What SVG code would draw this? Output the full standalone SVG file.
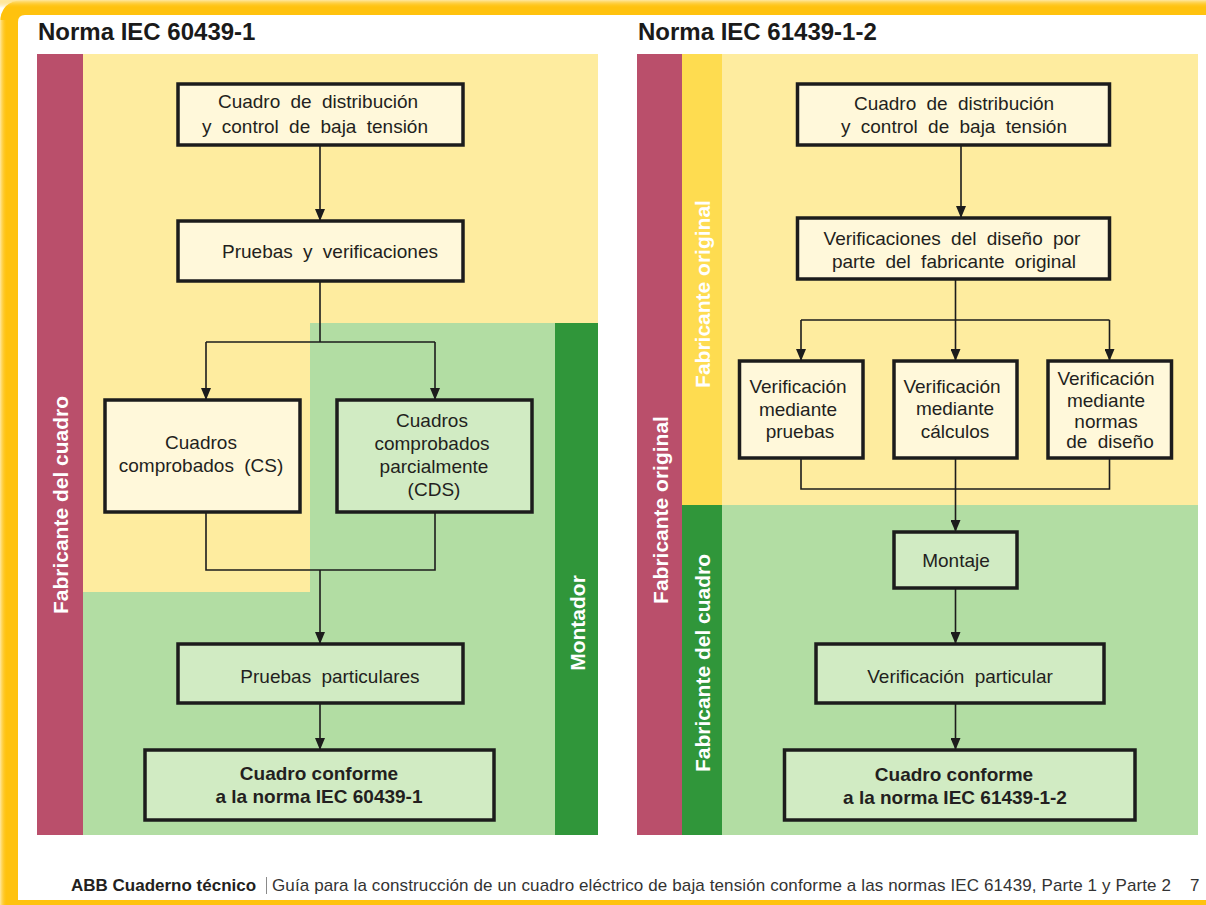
<svg xmlns="http://www.w3.org/2000/svg" width="1206" height="905" viewBox="0 0 1206 905">
<style>
.t{font-family:"Liberation Sans",Arial,sans-serif;font-size:19px;fill:#231F20;text-anchor:middle;word-spacing:5px}
.b{font-family:"Liberation Sans",Arial,sans-serif;font-size:19px;font-weight:bold;fill:#231F20;text-anchor:middle}
.v{font-family:"Liberation Sans",Arial,sans-serif;font-size:21px;font-weight:bold;fill:#FFFFFF;text-anchor:middle}
.h{font-family:"Liberation Sans",Arial,sans-serif;font-size:24px;font-weight:bold;fill:#1A1A1A}
.box{stroke:#1C1C1C;stroke-width:3.5}
.cr{fill:#FFF8DA}
.gr{fill:#D1EBC3}
.ln{fill:none;stroke:#1C1C1C;stroke-width:1.6}
</style>
<defs>
<marker id="ar" markerUnits="userSpaceOnUse" markerWidth="12" markerHeight="10" refX="12" refY="5" orient="auto">
<path d="M0,0 L12,5 L0,10 Z" fill="#1C1C1C"/>
</marker>
<linearGradient id="topg" x1="0" y1="0" x2="0" y2="1">
<stop offset="0" stop-color="#FFE8A0"/>
<stop offset="1" stop-color="#FFC20E" stop-opacity="0"/>
</linearGradient>
<linearGradient id="leftg" x1="0" y1="0" x2="1" y2="0">
<stop offset="0" stop-color="#FFE8A0"/>
<stop offset="1" stop-color="#FFC20E" stop-opacity="0"/>
</linearGradient>
</defs>
<rect width="1206" height="905" fill="#FFFFFF"/>
<g id="frame">
<path d="M0,905 V24 Q0,0 24,0 H1206 V905 Z" fill="#FFC20E"/>
<rect x="0" y="0" width="1206" height="8" fill="url(#topg)"/>
<rect x="0" y="20" width="7" height="885" fill="url(#leftg)"/>
<path d="M18,900 V22 Q18,15 25,15 H1206 V900 Z" fill="#FFFFFF"/>
</g>
<g id="left-panel">
<text class="h" x="38" y="40">Norma IEC 60439-1</text>
<rect x="83" y="54" width="515" height="781" fill="#FEEC9F"/>
<path d="M310,323 H555 V835 H83 V592 H310 Z" fill="#B2DDA3"/>
<rect x="37" y="54" width="46" height="781" fill="#BA4F6B"/>
<rect x="555" y="323" width="43" height="512" fill="#30963A"/>
<text class="v" transform="translate(60,505) rotate(-90)" x="0" y="7.5">Fabricante del cuadro</text>
<text class="v" transform="translate(577,623) rotate(-90)" x="0" y="7.5">Montador</text>
</g>
<g id="right-panel">
<text class="h" x="638" y="40">Norma IEC 61439-1-2</text>
<rect x="722" y="54" width="476" height="451" fill="#FEEC9F"/>
<rect x="722" y="505" width="476" height="330" fill="#B2DDA3"/>
<rect x="637" y="54" width="45" height="781" fill="#BA4F6B"/>
<rect x="682" y="54" width="40" height="451" fill="#FEDC50"/>
<rect x="682" y="505" width="40" height="330" fill="#30963A"/>
<text class="v" transform="translate(660,510) rotate(-90)" x="0" y="7.5">Fabricante original</text>
<text class="v" transform="translate(702,294) rotate(-90)" x="0" y="7.5">Fabricante original</text>
<text class="v" transform="translate(702,663) rotate(-90)" x="0" y="7.5">Fabricante del cuadro</text>
</g>
<g id="connectors">
<line class="ln" x1="320" y1="145" x2="320" y2="221" marker-end="url(#ar)"/>
<path class="ln" d="M320,281 V342 M206,342 H435"/>
<line class="ln" x1="206" y1="342" x2="206" y2="400" marker-end="url(#ar)"/>
<line class="ln" x1="435" y1="342" x2="435" y2="400" marker-end="url(#ar)"/>
<path class="ln" d="M206,512 V570 H435 V512"/>
<line class="ln" x1="320" y1="570" x2="320" y2="644" marker-end="url(#ar)"/>
<line class="ln" x1="320" y1="703" x2="320" y2="750" marker-end="url(#ar)"/>
<line class="ln" x1="961" y1="145" x2="961" y2="218" marker-end="url(#ar)"/>
<path class="ln" d="M955.5,279 V320 M801,320 H1109.5"/>
<line class="ln" x1="801" y1="320" x2="801" y2="361" marker-end="url(#ar)"/>
<line class="ln" x1="955.5" y1="320" x2="955.5" y2="361" marker-end="url(#ar)"/>
<line class="ln" x1="1109.5" y1="320" x2="1109.5" y2="361" marker-end="url(#ar)"/>
<path class="ln" d="M801,458 V489 H1109.5 V458"/>
<line class="ln" x1="955.5" y1="458" x2="955.5" y2="532" marker-end="url(#ar)"/>
<line class="ln" x1="955.5" y1="588" x2="955.5" y2="644" marker-end="url(#ar)"/>
<line class="ln" x1="955.5" y1="703" x2="955.5" y2="750" marker-end="url(#ar)"/>
</g>
<g id="l-box1">
<rect class="box cr" x="178" y="84" width="285" height="61"/>
<text class="t" x="318" y="108">Cuadro de distribución</text>
<text class="t" x="315" y="133">y control de baja tensión</text>
</g>
<g id="l-box2">
<rect class="box cr" x="178" y="221" width="285" height="60"/>
<text class="t" x="330" y="258">Pruebas y verificaciones</text>
</g>
<g id="l-cs">
<rect class="box cr" x="105" y="400" width="195" height="112"/>
<text class="t" x="201" y="449">Cuadros</text>
<text class="t" x="201" y="472">comprobados (CS)</text>
</g>
<g id="l-cds">
<rect class="box gr" x="337" y="400" width="195" height="112"/>
<text class="t" x="432" y="427">Cuadros</text>
<text class="t" x="432" y="450">comprobados</text>
<text class="t" x="434" y="473">parcialmente</text>
<text class="t" x="434" y="496">(CDS)</text>
</g>
<g id="l-pp">
<rect class="box gr" x="178" y="644" width="285" height="59"/>
<text class="t" x="330" y="683">Pruebas particulares</text>
</g>
<g id="l-final">
<rect class="box gr" x="145" y="750" width="349" height="70"/>
<text class="b" x="319" y="780">Cuadro conforme</text>
<text class="b" x="319" y="803">a la norma IEC 60439-1</text>
</g>
<g id="r-box1">
<rect class="box cr" x="797.5" y="84" width="312" height="61"/>
<text class="t" x="954" y="110">Cuadro de distribución</text>
<text class="t" x="954" y="133">y control de baja tensión</text>
</g>
<g id="r-box2">
<rect class="box cr" x="797.5" y="218" width="312" height="61"/>
<text class="t" x="952" y="245">Verificaciones del diseño por</text>
<text class="t" x="954" y="268">parte del fabricante original</text>
</g>
<g id="r-a">
<rect class="box cr" x="739.5" y="361" width="123.5" height="97"/>
<text class="t" x="798" y="393">Verificación</text>
<text class="t" x="798" y="416">mediante</text>
<text class="t" x="800" y="438">pruebas</text>
</g>
<g id="r-b">
<rect class="box cr" x="894" y="361" width="123" height="97"/>
<text class="t" x="952" y="393">Verificación</text>
<text class="t" x="955" y="415">mediante</text>
<text class="t" x="955" y="438">cálculos</text>
</g>
<g id="r-c">
<rect class="box cr" x="1048" y="361" width="123.5" height="97"/>
<text class="t" x="1106" y="385">Verificación</text>
<text class="t" x="1106" y="407">mediante</text>
<text class="t" x="1106" y="428">normas</text>
<text class="t" x="1110" y="448">de diseño</text>
</g>
<g id="r-montaje">
<rect class="box gr" x="894" y="532" width="123" height="56"/>
<text class="t" x="956" y="567">Montaje</text>
</g>
<g id="r-vp">
<rect class="box gr" x="816" y="644" width="288" height="59"/>
<text class="t" x="960" y="683">Verificación particular</text>
</g>
<g id="r-final">
<rect class="box gr" x="784.5" y="750" width="350.5" height="70"/>
<text class="b" x="954" y="781">Cuadro conforme</text>
<text class="b" x="955" y="804">a la norma IEC 61439-1-2</text>
</g>
<g id="footer">
<text x="71" y="891" font-family="Liberation Sans,Arial,sans-serif" font-size="17" font-weight="bold" fill="#231F20">ABB Cuaderno técnico</text>
<line x1="266.5" y1="877" x2="266.5" y2="894" stroke="#8A8A8A" stroke-width="1"/>
<text x="272" y="891" font-family="Liberation Sans,Arial,sans-serif" font-size="17" fill="#333333" textLength="899" lengthAdjust="spacing">Guía para la construcción de un cuadro eléctrico de baja tensión conforme a las normas IEC 61439, Parte 1 y Parte 2</text>
<text x="1190" y="891" font-family="Liberation Sans,Arial,sans-serif" font-size="17" fill="#333333">7</text>
</g>
</svg>
